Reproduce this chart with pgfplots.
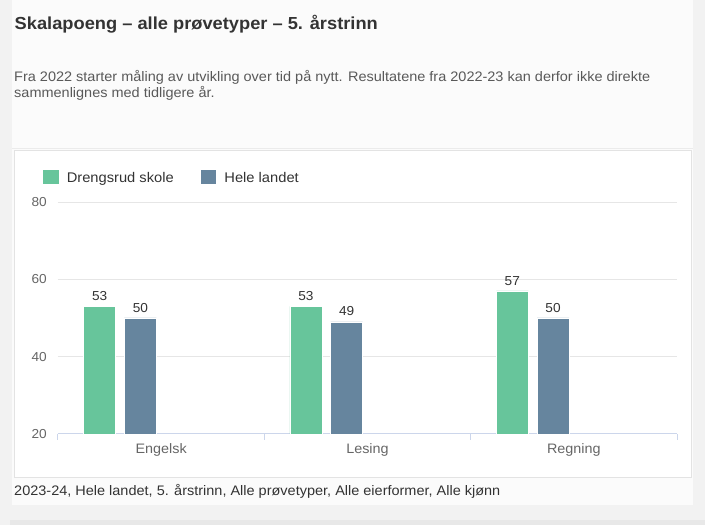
\documentclass[border=0pt]{standalone}
\usepackage{fontspec}
\setmainfont{Liberation Sans}[FakeStretch=1.05]
\usepackage{pgfplots}
\pgfplotsset{compat=1.18}

\definecolor{skole}{HTML}{67C59B}
\definecolor{landet}{HTML}{66859E}
\definecolor{axiscol}{HTML}{CCD6EB}
\definecolor{gridcol}{HTML}{E6E6E6}
\definecolor{txtdark}{HTML}{333333}
\definecolor{txtmid}{HTML}{595959}
\definecolor{txttick}{HTML}{666666}

\begin{document}
\begin{tikzpicture}
\useasboundingbox (0pt,0pt) rectangle (705pt,525pt);
% panels
\fill[white!95!black] (0pt,0pt) rectangle (705pt,525pt);
\fill[white!98.5!black] (12pt,20pt) rectangle (693pt,525pt);
\fill[white!92!black] (12pt,376pt) rectangle (693pt,377pt);
\fill[white!91!black] (10pt,0pt) rectangle (705pt,5pt);
\draw[white!89!black, fill=white] (14.5pt,47.5pt) rectangle (691.5pt,375pt);

% texts
\node[anchor=base west, inner sep=0pt, text=txtdark, font=\fontsize{17.4}{20}\selectfont\bfseries] at (14.5pt,495pt) {Skalapoeng – alle prøvetyper – 5. årstrinn};
\node[anchor=base west, inner sep=0pt, text=txtmid, font=\fontsize{13.8}{16}\selectfont] at (14pt,443pt) {Fra 2022 starter måling av utvikling over tid på nytt. Resultatene fra 2022-23 kan derfor ikke direkte};
\node[anchor=base west, inner sep=0pt, text=txtmid, font=\fontsize{13.8}{16}\selectfont] at (14pt,427pt) {sammenlignes med tidligere år.};
\node[anchor=base west, inner sep=0pt, text=txtdark, font=\fontsize{13.8}{16}\selectfont] at (14pt,29pt) {2023-24, Hele landet, 5. årstrinn, Alle prøvetyper, Alle eierformer, Alle kjønn};

\begin{axis}[
  at={(58pt,91pt)}, anchor=south west,
  scale only axis, width=619pt, height=232pt,
  xmin=-0.5, xmax=2.5, ymin=20, ymax=80,
  ybar, bar width=32pt,
  xtick={0,1,2}, xticklabels={Engelsk,Lesing,Regning},
  minor xtick={-0.5,0.5,1.5,2.5},
  ytick={20,40,60,80},
  xtick pos=bottom, ytick pos=left,
  tick align=outside,
  major tick length=0pt, minor tick length=6pt,
  minor tick style={draw=axiscol, line width=1pt},
  axis x line*=bottom, axis y line*=left,
  x axis line style={draw=axiscol, line width=1pt, -},
  y axis line style={draw=none},
  ymajorgrids, major grid style={draw=gridcol, line width=1pt},
  /pgf/number format/assume math mode=true,
  xticklabel style={anchor=base, inner sep=0pt, yshift=-20pt, text=txttick, font=\fontsize{13.7}{16}\selectfont},
  yticklabel style={anchor=east, inner sep=0pt, xshift=-11pt, text=txttick, font=\fontsize{13}{16}\selectfont},
  nodes near coords,
  nodes near coords style={anchor=south, inner sep=0pt, yshift=5.5pt, text=txtdark, font=\fontsize{13}{16}\selectfont},
  legend columns=2,
  legend style={draw=none, fill=none, inner sep=0pt, at={(-0.02423,1.1401)}, anchor=north west,
    nodes={inner sep=0pt, text depth=0pt, text=txtdark, font=\fontsize{14}{16}\selectfont},
    cells={anchor=base west},
    /tikz/every odd column/.append style={column sep=8.5pt},
    /tikz/every even column/.append style={column sep=27pt}},
]
\addplot[bar shift=-61.5pt, fill=skole, draw=white, line width=0.6pt,
  legend image code/.code={\fill[skole] (0pt,-0.7pt) rectangle (14.5pt,12.5pt);}]
  coordinates {(0,53) (1,53) (2,57)};
\addlegendentry{Drengsrud skole}
\addplot[bar shift=-20.8pt, fill=landet, draw=white, line width=0.6pt,
  legend image code/.code={\fill[landet] (0pt,-0.7pt) rectangle (14.5pt,12.5pt);}]
  coordinates {(0,50) (1,49) (2,50)};
\addlegendentry{Hele landet}
\end{axis}
\end{tikzpicture}
\end{document}
